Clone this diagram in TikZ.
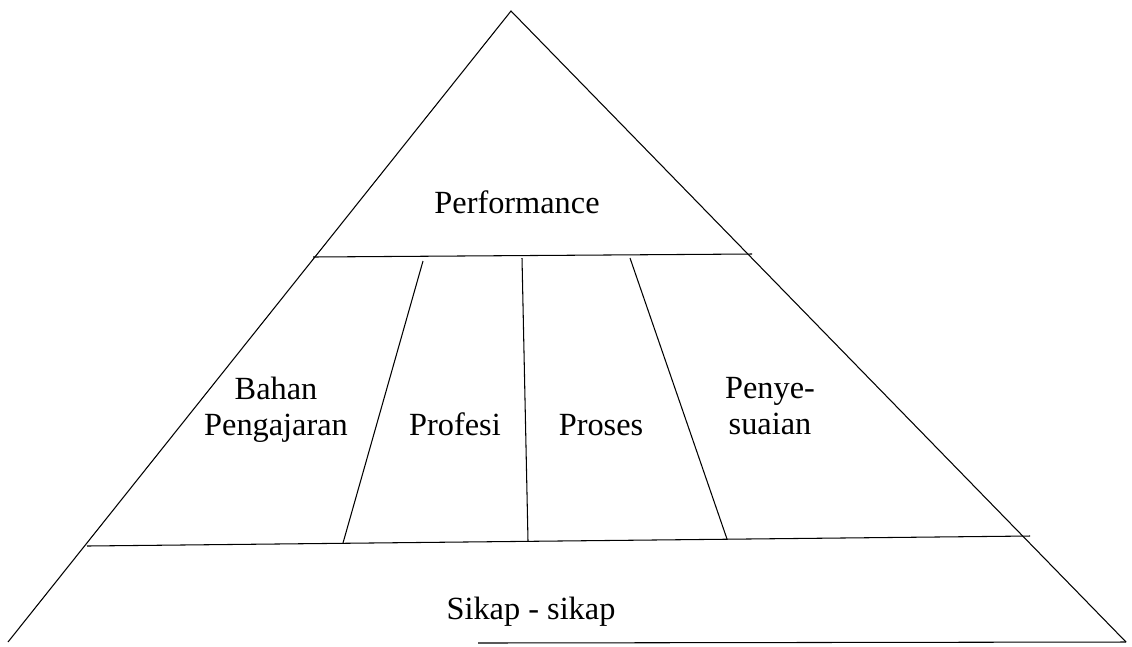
\documentclass[tikz,border=0pt]{standalone}
\usepackage{fontspec}
\setmainfont{Liberation Serif}
\usetikzlibrary{positioning}

\begin{document}
\begin{tikzpicture}[line width=0.6pt,
  lbl/.style={font=\fontsize{18.4}{20.6}\selectfont,inner sep=0pt,align=center}]
\useasboundingbox (0,0) rectangle (22.64,-12.92);
% corners of the pyramid
\coordinate (apex) at (10.22,-0.22);
\coordinate (baseL) at (0.16,-12.84);
\coordinate (baseR) at (22.52,-12.84);
\coordinate (baseS) at (9.56,-12.86);
\draw (baseL) -- (apex) -- (baseR);
\draw (baseS) -- (baseR);
% layers
\coordinate (topL) at (6.26,-5.14);
\coordinate (topR) at (15.04,-5.08);
\coordinate (midL) at (1.74,-10.92);
\coordinate (midR) at (20.60,-10.72);
\draw (topL) -- (topR);
\draw (midL) -- (midR);
% dividers
\coordinate (d1t) at (8.46,-5.22);
\coordinate (d1b) at (6.86,-10.86);
\coordinate (d2t) at (10.44,-5.16);
\coordinate (d2b) at (10.56,-10.82);
\coordinate (d3t) at (12.60,-5.16);
\coordinate (d3b) at (14.54,-10.78);
\draw (d1t) -- (d1b);
\draw (d2t) -- (d2b);
\draw (d3t) -- (d3b);

\node[lbl,anchor=base] (perf) at (10.34,-4.26) {Performance};
\node[lbl] (bahan) at (5.52,-8.20) {Bahan\\Pengajaran};
\node[lbl,anchor=base] (prof) at (9.10,-8.70) {Profesi};
\node[lbl,anchor=base] (pros) at (12.02,-8.70) {Proses};
\node[lbl] (peny) at (15.40,-8.12) {Penye-\\suaian};
\node[lbl,anchor=base] (sikap) at (10.62,-12.38) {Sikap - sikap};
\end{tikzpicture}
\end{document}
